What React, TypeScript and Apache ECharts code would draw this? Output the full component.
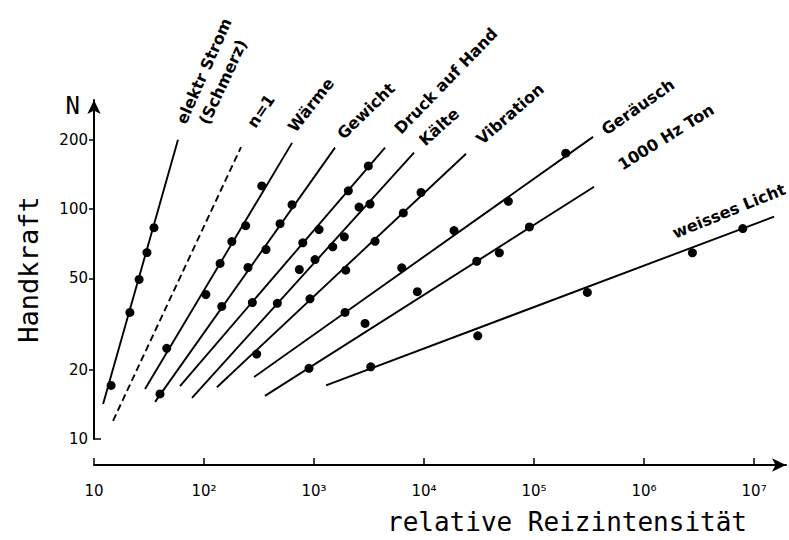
import React, { useEffect, useRef } from 'react';
import * as echarts from 'echarts';

// Axis ticks
const X_TICKS = [10, 1e2, 1e3, 1e4, 1e5, 1e6, 1e7];
const X_TICK_LABELS = ['10', '10²', '10³', '10⁴', '10⁵', '10⁶', '10⁷'];
const Y_TICKS = [10, 20, 50, 100, 200];
const Y_TICK_MARKS = [20, 50, 100, 200];

// [relative stimulus intensity, hand force N]
const elektrLine = [[12.1, 14.2], [58, 200]];
const elektrPoints = [[14.3, 17.1], [21.2, 35.5], [25.7, 49.4], [30.3, 64.7], [35.1, 83]];
const n1Line = [[14.9, 12], [217, 186]];
const waermeLine = [[29.1, 16.5], [631, 194]];
const waermePoints = [[45.8, 24.8], [104, 42.5], [140, 58], [179, 72.2], [239, 84.7], [335, 126]];
const gewichtLine = [[35.9, 14.5], [1552, 185]];
const gewichtPoints = [[39.8, 15.7], [145, 37.7], [251, 55.7], [366, 66.7], [491, 86.4], [631, 104.5]];
const druckLine = [[60.5, 17], [4421, 185]];
const druckPoints = [[275, 39.2], [790, 71.3], [1111, 81.4], [2050, 120], [3116, 154]];
const kaelteLine = [[77.8, 15.1], [8111, 176]];
const kaeltePoints = [[464, 38.9], [735, 54.6], [1021, 60.3], [1479, 68.5], [1886, 75.7], [2566, 102], [3229, 105.2]];
const vibrationLine = [[131, 16.8], [24090, 174]];
const vibrationPoints = [[301, 23.4], [919, 40.7], [1942, 54.2], [3585, 72.4], [6482, 96.2], [9391, 118]];
const geraeuschLine = [[285, 18.6], [343900, 206]];
const geraeuschPoints = [[1913, 35.5], [6270, 55.5], [18740, 80.6], [58400, 108], [194200, 175]];
const tonLine = [[358, 15.4], [351200, 125]];
const tonPoints = [[900, 20.3], [2908, 31.8], [8692, 43.7], [30140, 59.3], [48350, 64.5], [90630, 83.6]];
const lichtLine = [[1286, 17.1], [15200000, 92.7]];
const lichtPoints = [[3278, 20.6], [30780, 28.1], [305100, 43.4], [2749000, 64.5], [7898000, 82.2]];

const GROUPS = [
  { name: 'elektr Strom (Schmerz)', line: elektrLine, points: elektrPoints, dashed: false },
  { name: 'n=1', line: n1Line, points: [], dashed: true },
  { name: 'Wärme', line: waermeLine, points: waermePoints, dashed: false },
  { name: 'Gewicht', line: gewichtLine, points: gewichtPoints, dashed: false },
  { name: 'Druck auf Hand', line: druckLine, points: druckPoints, dashed: false },
  { name: 'Kälte', line: kaelteLine, points: kaeltePoints, dashed: false },
  { name: 'Vibration', line: vibrationLine, points: vibrationPoints, dashed: false },
  { name: 'Geräusch', line: geraeuschLine, points: geraeuschPoints, dashed: false },
  { name: '1000 Hz Ton', line: tonLine, points: tonPoints, dashed: false },
  { name: 'weisses Licht', line: lichtLine, points: lichtPoints, dashed: false },
];

// Label placement (pixels, degrees)
const LABEL_LAYOUT = [
  { text: 'elektr Strom', x: 204, y: 71, angle: 66 },
  { text: '(Schmerz)', x: 223, y: 82, angle: 65 },
  { text: 'n=1', x: 261, y: 111, angle: 56 },
  { text: 'Wärme', x: 311, y: 105, angle: 52 },
  { text: 'Gewicht', x: 366, y: 111, angle: 44 },
  { text: 'Druck auf Hand', x: 446, y: 81, angle: 46 },
  { text: 'Kälte', x: 439, y: 127, angle: 42 },
  { text: 'Vibration', x: 510, y: 114, angle: 41 },
  { text: 'Geräusch', x: 638, y: 107, angle: 35 },
  { text: '1000 Hz Ton', x: 666, y: 137, angle: 32 },
  { text: 'weisses Licht', x: 729, y: 211, angle: 22 },
];

const BLACK = '#000';

export default function App() {
  const ref = useRef<HTMLDivElement>(null);
  useEffect(() => {
    if (!ref.current) return;
    const chart = echarts.init(ref.current, undefined, { renderer: 'svg' });
    const series: any[] = [];
    GROUPS.forEach((g) => {
      series.push({
        type: 'line',
        name: g.name,
        data: g.line,
        showSymbol: false,
        symbol: 'none',
        silent: true,
        z: 2,
        lineStyle: { color: BLACK, width: 1.9, type: g.dashed ? [7, 4] : 'solid' },
      });
      if (g.points.length) {
        series.push({
          type: 'scatter',
          name: g.name,
          data: g.points,
          symbolSize: 9,
          z: 3,
          itemStyle: { color: BLACK, opacity: 1 },
        });
      }
    });
    const option: any = {
      animation: false,
      backgroundColor: '#fff',
      grid: { left: 94, right: 3, top: 100, bottom: 100, containLabel: false },
      xAxis: {
        type: 'log',
        logBase: 10,
        min: 10,
        max: 1.95e7,
        offset: 26,
        axisLine: {
          show: true,
          onZero: false,
          lineStyle: { color: BLACK, width: 2 },
          symbol: ['none', 'arrow'],
          symbolSize: [10, 14],
        },
        axisTick: { show: true, inside: true, length: 7, customValues: X_TICKS, lineStyle: { color: BLACK, width: 1.5 } },
        axisLabel: {
          customValues: X_TICKS,
          formatter: (v: number) => X_TICK_LABELS[Math.round(Math.log10(v)) - 1],
          color: BLACK,
          fontFamily: 'DejaVu Sans',
          fontSize: 15,
          margin: 18,
        },
        splitLine: { show: false },
        minorTick: { show: false },
        minorSplitLine: { show: false },
        name: 'relative Reizintensität',
        nameLocation: 'middle',
        nameGap: 44,
        nameTextStyle: { fontFamily: 'DejaVu Sans Mono', fontSize: 26, color: BLACK, padding: [0, 0, 0, 254] },
      },
      yAxis: [
        {
          type: 'log',
          logBase: 10,
          min: 10,
          max: 298,
          position: 'left',
          axisLine: {
            show: true,
            onZero: false,
            lineStyle: { color: BLACK, width: 2 },
            symbol: ['none', 'arrow'],
            symbolSize: [10, 14],
          },
          axisTick: { show: true, inside: false, length: 5, customValues: Y_TICK_MARKS, lineStyle: { color: BLACK, width: 1.5 } },
          axisLabel: { customValues: Y_TICKS, color: BLACK, fontFamily: 'DejaVu Sans', fontSize: 15, margin: 6 },
          splitLine: { show: false },
          minorTick: { show: false },
          name: 'N',
          nameLocation: 'end',
          nameGap: -6,
          nameTextStyle: {
            fontFamily: 'DejaVu Sans Mono',
            fontSize: 24,
            color: BLACK,
            align: 'right',
            verticalAlign: 'middle',
            padding: [0, 14, 0, 0],
          },
        },
        {
          type: 'log',
          logBase: 10,
          min: 10,
          max: 298,
          position: 'left',
          axisLine: { show: false },
          axisTick: { show: true, inside: true, length: 7, customValues: [10], lineStyle: { color: BLACK, width: 1.5 } },
          axisLabel: { show: false },
          splitLine: { show: false },
          minorTick: { show: false },
          name: 'Handkraft',
          nameLocation: 'middle',
          nameGap: 52,
          nameTextStyle: { fontFamily: 'DejaVu Sans Mono', fontSize: 27, color: BLACK },
        },
      ],
      graphic: LABEL_LAYOUT.map((l) => ({
        type: 'text',
        x: l.x,
        y: l.y,
        rotation: (l.angle * Math.PI) / 180,
        silent: true,
        style: {
          text: l.text,
          fill: BLACK,
          font: 'bold 16px "DejaVu Sans"',
          align: 'center',
          verticalAlign: 'middle',
          textAlign: 'center',
          textVerticalAlign: 'middle',
        },
      })),
      series,
    };
    chart.setOption(option);
    return () => chart.dispose();
  }, []);
  return <div ref={ref} style={{ position: 'absolute', left: 0, top: 0, width: 789, height: 540 }} />;
}
